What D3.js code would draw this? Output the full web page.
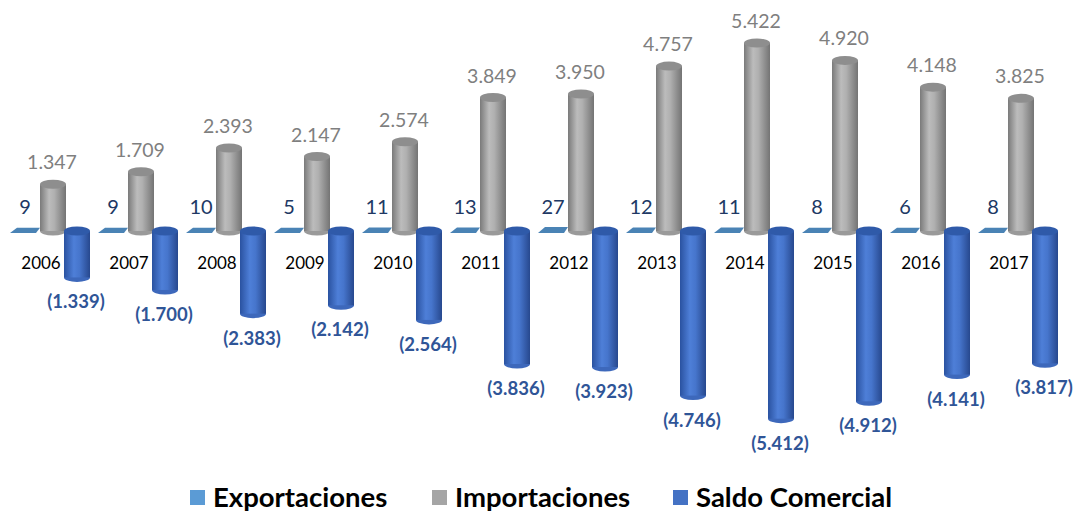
<!DOCTYPE html>
<html>
<head>
<meta charset="utf-8">
<script src="https://cdn.jsdelivr.net/npm/d3@7"></script>
<style>
  body { margin: 0; background: #fff; }
  text { font-family: Lato, "Open Sans", sans-serif; }
</style>
</head>
<body>
<svg id="chart" width="1075" height="512"></svg>
<script>
const years = ["2006","2007","2008","2009","2010","2011","2012","2013","2014","2015","2016","2017"];
const exportaciones = [9, 9, 10, 5, 11, 13, 27, 12, 11, 8, 6, 8];
const importaciones = [1347, 1709, 2393, 2147, 2574, 3849, 3950, 4757, 5422, 4920, 4148, 3825];
const saldo = [-1339, -1700, -2383, -2142, -2564, -3836, -3923, -4746, -5412, -4912, -4141, -3817];
const seriesNames = ["Exportaciones", "Importaciones", "Saldo Comercial"];
const seriesColors = ["#5b9bd5", "#a5a5a5", "#4472c4"];

const rows = years.map((y, i) => ({ year: y, exp: exportaciones[i], imp: importaciones[i], sal: saldo[i] }));

const fmt = d3.formatLocale({ decimal: ",", thousands: ".", grouping: [3], currency: ["", ""] }).format(",d");

const svg = d3.select("#chart");
const defs = svg.append("defs");

function cylGrad(id, stops) {
  const g = defs.append("linearGradient").attr("id", id).attr("x1", "0%").attr("x2", "100%");
  stops.forEach(s => g.append("stop").attr("offset", s[0]).attr("stop-color", s[1]));
}
cylGrad("gGray", [["0%", "#7a7a7a"], ["35%", "#bcbcbc"], ["55%", "#b0b0b0"], ["100%", "#747474"]]);
cylGrad("gBlue", [["0%", "#2a52a0"], ["38%", "#4e7fd8"], ["60%", "#4675cc"], ["100%", "#27488e"]]);

const x = d3.scalePoint().domain(years).range([52, 1020]);
const y = d3.scaleLinear().domain([0, 5422]).range([231, 43]);

const cw = 26, ry = 4.5;

function cylinder(g, cx, yTop, yBot, fill, cap, bottom) {
  g.append("ellipse").attr("cx", cx).attr("cy", yBot).attr("rx", cw / 2).attr("ry", ry).attr("fill", bottom);
  g.append("rect").attr("x", cx - cw / 2).attr("y", yTop).attr("width", cw).attr("height", Math.max(0, yBot - yTop)).attr("fill", fill);
  g.append("ellipse").attr("cx", cx).attr("cy", yTop).attr("rx", cw / 2).attr("ry", ry).attr("fill", cap);
}

const plot = svg.append("g");

rows.forEach(d => {
  const c = x(d.year);
  const g = plot.append("g");

  // Exportaciones: flat slab at the floor
  const ec = c - 27;
  const t = y(d.exp) - y(0);
  const pts = [[ec - 8, 228 + t], [ec + 15, 228 + t], [ec + 11, 233], [ec - 15, 233]];
  g.append("polygon").attr("points", pts.map(p => p.join(",")).join(" ")).attr("fill", "#4a83b5");

  // Importaciones
  cylinder(g, c + 1, y(d.imp), y(0), "url(#gGray)", "#8e8e8e", "#9a9a9a");

  // Saldo Comercial
  cylinder(g, c + 25, y(0), y(d.sal), "url(#gBlue)", "#2f5aa9", "#3d68bb");

  // labels
  g.append("text").attr("x", ec).attr("y", 214).attr("text-anchor", "middle")
    .attr("font-size", 20).attr("fill", "#203864").text(d.exp);
  g.append("text").attr("x", c).attr("y", y(d.imp) - 15).attr("text-anchor", "middle")
    .attr("font-size", 19.5).attr("fill", "#7f7f7f").text(fmt(d.imp));
  g.append("text").attr("x", c - 11).attr("y", 269).attr("text-anchor", "middle")
    .attr("font-size", 17).attr("fill", "#000").text(d.year);
  g.append("text").attr("x", c + 24).attr("y", y(d.sal) + 31).attr("text-anchor", "middle")
    .attr("font-size", 18.5).attr("font-weight", "bold").attr("fill", "#2f5597")
    .text("(" + fmt(Math.abs(d.sal)) + ")");
});

// legend
const legendX = [190, 432, 673];
const legend = svg.append("g");
seriesNames.forEach((n, i) => {
  legend.append("rect").attr("x", legendX[i]).attr("y", 490).attr("width", 15).attr("height", 15).attr("fill", seriesColors[i]);
  legend.append("text").attr("x", legendX[i] + 23).attr("y", 507)
    .attr("font-size", 27.5).attr("font-weight", "bold").attr("fill", "#000").text(n);
});
</script>
</body>
</html>
